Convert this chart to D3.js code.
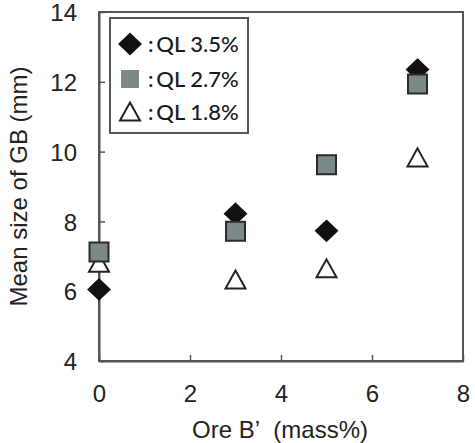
<!DOCTYPE html>
<html>
<head>
<meta charset="utf-8">
<script src="https://cdn.jsdelivr.net/npm/d3@7"></script>
<style>
  body { margin: 0; background: #fff; }
  svg { display: block; }
</style>
</head>
<body>
<svg></svg>
<script>
const width = 475;
const height = 443;

const xTicks = [0, 2, 4, 6, 8];
const yTicks = [4, 6, 8, 10, 12, 14];
const oreB = [0, 3, 5, 7];
const ql35 = [6.05, 8.22, 7.73, 12.35];
const ql27 = [7.12, 7.72, 9.62, 11.94];
const ql18 = [6.8, 6.32, 6.64, 9.82];
const seriesNames = [":\u2009QL 3.5%", ":\u2009QL 2.7%", ":\u2009QL 1.8%"];

const margin = { left: 99, right: 12, top: 12, bottom: 82 };

const svg = d3.select("svg")
  .attr("width", width)
  .attr("height", height);

const x = d3.scaleLinear().domain([0, 8]).range([margin.left, width - margin.right]);
const y = d3.scaleLinear().domain([4, 14]).range([height - margin.bottom, margin.top]);

const axisColor = "#555";
const arial = "'Liberation Sans', Arial, sans-serif";

// frame
svg.append("rect")
  .attr("x", x(0))
  .attr("y", y(14))
  .attr("width", x(8) - x(0))
  .attr("height", y(4) - y(14))
  .attr("fill", "none")
  .attr("stroke", axisColor)
  .attr("stroke-width", 2);

const xAxis = svg.append("g")
  .attr("transform", `translate(0,${y(4)})`)
  .call(d3.axisBottom(x).tickValues(xTicks).tickSizeInner(-6).tickSizeOuter(0).tickPadding(24));

const yAxis = svg.append("g")
  .attr("transform", `translate(${x(0)},0)`)
  .call(d3.axisLeft(y).tickValues(yTicks).tickSizeInner(-6).tickSizeOuter(0).tickPadding(22));

[xAxis, yAxis].forEach(function(g) {
  g.select(".domain").attr("stroke", axisColor).attr("stroke-width", 2);
  g.selectAll(".tick line").attr("stroke", axisColor).attr("stroke-width", 1.5);
  g.selectAll(".tick text")
    .attr("fill", "#222")
    .style("font-family", arial)
    .style("font-size", "24px");
});
yAxis.selectAll(".tick text").attr("dy", "0.36em");

// axis titles
svg.append("text")
  .attr("x", 280)
  .attr("y", 438)
  .attr("text-anchor", "middle")
  .attr("fill", "#222")
  .style("font-family", arial)
  .style("font-size", "24px")
  .text("Ore B\u2019\u00a0 (mass%)");

svg.append("text")
  .attr("transform", `translate(27,${(y(4) + y(14)) / 2}) rotate(-90)`)
  .attr("text-anchor", "middle")
  .attr("fill", "#222")
  .style("font-family", arial)
  .style("font-size", "24px")
  .text("Mean size of GB (mm)");

// markers
const diamondPath = "M0,-10L10.5,0L0,10L-10.5,0Z";
const squarePath = "M-9.5,-9.5H9.5V9.5H-9.5Z";
const trianglePath = "M0,-9.5L10,8.5H-10Z";

function drawSeries(vals, pathD, fill, stroke) {
  svg.append("g")
    .selectAll("path")
    .data(oreB.map((d, i) => [d, vals[i]]))
    .join("path")
    .attr("d", pathD)
    .attr("transform", d => `translate(${x(d[0])},${y(d[1])})`)
    .attr("fill", fill)
    .attr("stroke", stroke)
    .attr("stroke-width", 2)
    .attr("stroke-linejoin", "miter");
}

drawSeries(ql18, trianglePath, "#fff", "#222");
drawSeries(ql35, diamondPath, "#111", "#111");
drawSeries(ql27, squarePath, "#7c8787", "#2a2a2a");

// legend
const legend = svg.append("g");
legend.append("rect")
  .attr("x", 110)
  .attr("y", 18)
  .attr("width", 138)
  .attr("height", 115)
  .attr("fill", "#fff")
  .attr("stroke", axisColor)
  .attr("stroke-width", 2);

const legendShapes = [
  { d: diamondPath, fill: "#111", stroke: "#111" },
  { d: "M-9,-9H9V9H-9Z", fill: "#7c8787", stroke: "none" },
  { d: trianglePath, fill: "#fff", stroke: "#222" }
];
const rowY = [44, 79, 112];

seriesNames.forEach(function(name, i) {
  legend.append("path")
    .attr("d", legendShapes[i].d)
    .attr("transform", `translate(130,${rowY[i]})`)
    .attr("fill", legendShapes[i].fill)
    .attr("stroke", legendShapes[i].stroke)
    .attr("stroke-width", 2);
  legend.append("text")
    .attr("x", 148)
    .attr("y", rowY[i])
    .attr("dy", "0.36em")
    .attr("fill", "#1a1a1a")
    .style("font-family", "Lato, 'Open Sans', sans-serif")
    .style("font-size", "22px")
    .style("font-weight", 500)
    .text(name);
});
</script>
</body>
</html>
